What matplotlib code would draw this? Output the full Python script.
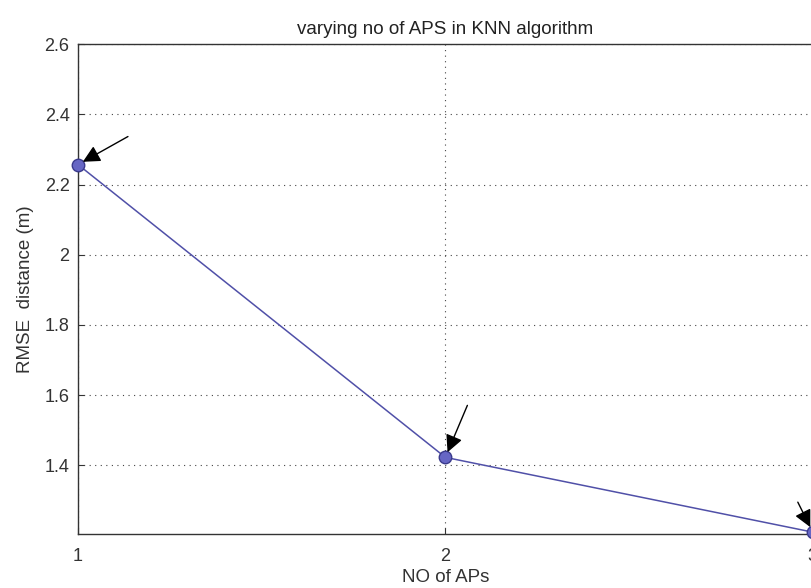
import matplotlib
matplotlib.use("Agg")
import matplotlib.pyplot as plt

num_aps = [1, 2, 3]
rmse = [2.257, 1.423, 1.21]
x_ticks = [1, 2, 3]
y_ticks = [1.4, 1.6, 1.8, 2.0, 2.2, 2.4, 2.6]
y_tick_labels = ["1.4", "1.6", "1.8", "2", "2.2", "2.4", "2.6"]

plt.rcParams['font.family'] = ['Liberation Sans', 'DejaVu Sans']

fig = plt.figure(figsize=(8.12, 5.88), dpi=100)
ax = fig.add_axes([0.096, 0.092, 0.905, 0.833])

ax.plot(num_aps, rmse, '-', color='#5050a8', lw=1.1,
        marker='o', markersize=9, markerfacecolor='#6666c4',
        markeredgecolor='#3a3a8c', markeredgewidth=1.0, clip_on=False, zorder=3)

# arrow tail offsets (pixels) relative to each point
arrow_offsets = [(50, 28), (22, 52), (-15, 30)]
for (xv, yv), (dx, dy) in zip(zip(num_aps, rmse), arrow_offsets):
    ax.annotate('', xy=(xv, yv), xycoords='data',
                xytext=(dx, dy), textcoords='offset pixels',
                arrowprops=dict(arrowstyle='-|>,head_length=0.8,head_width=0.4',
                                color='black', lw=1.0,
                                mutation_scale=13, shrinkA=0, shrinkB=4),
                annotation_clip=False)

ax.set_xlim(1, 3)
ax.set_ylim(1.205, 2.6)
ax.set_xticks(x_ticks)
ax.set_xticklabels([str(v) for v in x_ticks])
ax.set_yticks(y_ticks)
ax.set_yticklabels(y_tick_labels)
ax.grid(True, linestyle=(0, (1, 4)), color='#444444', lw=0.8)
ax.tick_params(direction='in', length=4, labelsize=13, colors='#333333',
               labelcolor='#333333', pad=6)
ax.tick_params(axis='x', pad=10)
for s in ax.spines.values():
    s.set_color('#333333')
    s.set_linewidth(1.0)

ax.set_title('varying no of APS in KNN algorithm', fontsize=13.5, color='#222222', pad=7)
ax.set_xlabel('NO of APs', fontsize=13.5, color='#333333', labelpad=3)
ax.set_ylabel('RMSE  distance (m)', fontsize=13.5, color='#333333', labelpad=8)

fig.savefig('out.png', dpi=100)
